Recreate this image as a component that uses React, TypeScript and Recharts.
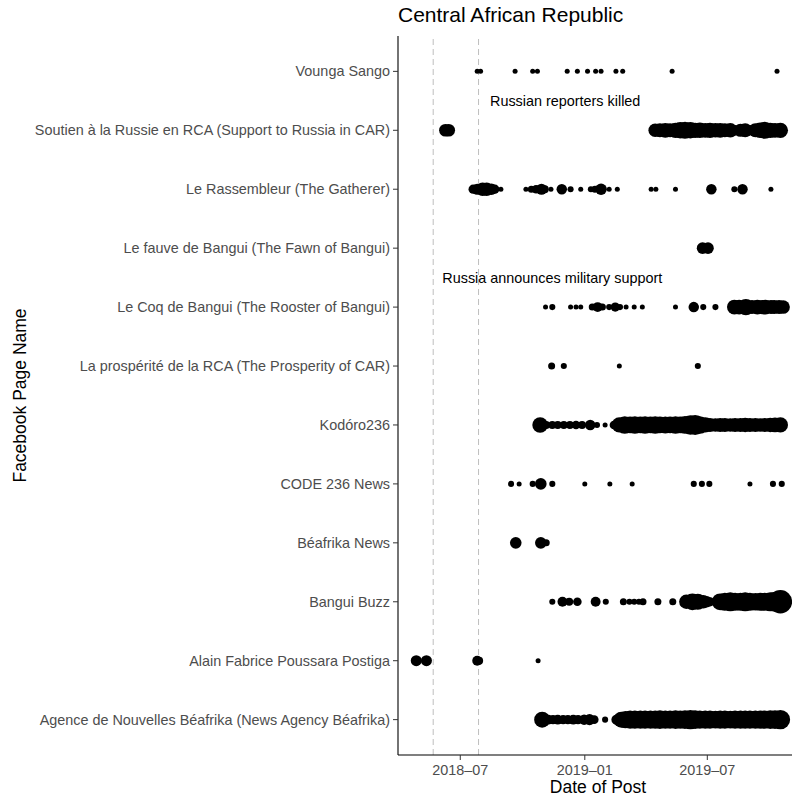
import React from 'react';
import { ScatterChart, Scatter, XAxis, YAxis, ReferenceLine } from 'recharts';

// rows from bottom to top, like the facet order in the source plot
const pages = [
  'Agence de Nouvelles Béafrika (News Agency Béafrika)',
  'Alain Fabrice Poussara Postiga',
  'Bangui Buzz',
  'Béafrika News',
  'CODE 236 News',
  'Kodóro236',
  'La prospérité de la RCA (The Prosperity of CAR)',
  'Le Coq de Bangui (The Rooster of Bangui)',
  'Le fauve de Bangui (The Fawn of Bangui)',
  'Le Rassembleur (The Gatherer)',
  'Soutien à la Russie en RCA (Support to Russia in CAR)',
  'Vounga Sango',
];

// [date, number of posts]
const agence: [string, number][] = [
  ['2018-10-30', 20], ['2018-11-08', 7], ['2018-11-15', 6], ['2018-11-22', 7], ['2018-11-30', 6],
  ['2018-12-07', 6], ['2018-12-15', 7], ['2018-12-22', 6], ['2018-12-31', 8], ['2019-01-08', 9],
  ['2019-01-15', 5], ['2019-01-31', 2], ['2019-02-17', 8], ['2019-02-24', 20], ['2019-03-02', 24],
  ['2019-03-09', 26], ['2019-03-16', 27], ['2019-03-24', 26], ['2019-03-31', 27], ['2019-04-08', 26],
  ['2019-04-15', 27], ['2019-04-22', 28], ['2019-04-30', 27], ['2019-05-07', 26], ['2019-05-15', 28],
  ['2019-05-22', 27], ['2019-05-29', 28], ['2019-06-06', 30], ['2019-06-13', 28], ['2019-06-20', 26],
  ['2019-06-28', 27], ['2019-07-05', 26], ['2019-07-13', 25], ['2019-07-20', 26], ['2019-07-27', 26],
  ['2019-08-04', 25], ['2019-08-11', 26], ['2019-08-19', 27], ['2019-08-26', 26], ['2019-09-02', 26],
  ['2019-09-10', 27], ['2019-09-17', 26], ['2019-09-24', 27], ['2019-10-02', 28], ['2019-10-09', 28],
  ['2019-10-17', 30],
];

const alain: [string, number][] = [
  ['2018-04-27', 9], ['2018-05-12', 9], ['2018-07-26', 7], ['2018-07-29', 4], ['2018-10-24', 1],
];

const banguiBuzz: [string, number][] = [
  ['2018-11-14', 2], ['2018-11-29', 7], ['2018-12-09', 4], ['2018-12-21', 5], ['2019-01-17', 7],
  ['2019-02-01', 2], ['2019-02-27', 3], ['2019-03-08', 2], ['2019-03-15', 2], ['2019-03-22', 2],
  ['2019-03-28', 3], ['2019-04-19', 3], ['2019-05-11', 3], ['2019-05-31', 16], ['2019-06-09', 22],
  ['2019-06-17', 20], ['2019-06-25', 14], ['2019-06-30', 10], ['2019-07-05', 6], ['2019-07-20', 22],
  ['2019-07-27', 26], ['2019-08-04', 28], ['2019-08-11', 26], ['2019-08-19', 26], ['2019-08-26', 28],
  ['2019-09-02', 26], ['2019-09-10', 24], ['2019-09-17', 26], ['2019-09-24', 26], ['2019-10-02', 28],
  ['2019-10-09', 32], ['2019-10-17', 44],
];

const beafrikaNews: [string, number][] = [
  ['2018-09-21', 10], ['2018-10-28', 10], ['2018-11-05', 3],
];

const code236: [string, number][] = [
  ['2018-09-14', 2], ['2018-09-26', 1], ['2018-10-16', 2], ['2018-10-28', 10], ['2018-11-14', 2],
  ['2019-01-01', 1], ['2019-02-07', 1], ['2019-03-12', 1], ['2019-06-11', 2], ['2019-06-23', 2],
  ['2019-07-04', 2], ['2019-09-02', 1], ['2019-10-06', 2], ['2019-10-19', 2],
];

const kodoro: [string, number][] = [
  ['2018-10-27', 19], ['2018-11-05', 4], ['2018-11-14', 4], ['2018-11-22', 4], ['2018-12-01', 4],
  ['2018-12-10', 4], ['2018-12-19', 5], ['2018-12-28', 4], ['2019-01-09', 8], ['2019-01-19', 2],
  ['2019-01-31', 1], ['2019-02-13', 5], ['2019-02-21', 18], ['2019-03-01', 24], ['2019-03-09', 22],
  ['2019-03-16', 24], ['2019-03-24', 22], ['2019-03-31', 24], ['2019-04-08', 22], ['2019-04-15', 24],
  ['2019-04-22', 22], ['2019-04-30', 23], ['2019-05-07', 22], ['2019-05-15', 24], ['2019-05-22', 22],
  ['2019-05-29', 25], ['2019-06-06', 30], ['2019-06-13', 32], ['2019-06-20', 24], ['2019-06-28', 18],
  ['2019-07-05', 15], ['2019-07-13', 14], ['2019-07-20', 15], ['2019-07-27', 15], ['2019-08-04', 14],
  ['2019-08-11', 15], ['2019-08-19', 15], ['2019-08-26', 16], ['2019-09-02', 15], ['2019-09-10', 15],
  ['2019-09-17', 14], ['2019-09-24', 15], ['2019-10-02', 16], ['2019-10-09', 17], ['2019-10-17', 18],
];

const prosperite: [string, number][] = [
  ['2018-11-13', 3], ['2018-12-01', 2], ['2019-02-21', 1], ['2019-06-17', 2],
];

const leCoq: [string, number][] = [
  ['2018-11-04', 1], ['2018-11-14', 2], ['2018-12-11', 1], ['2018-12-19', 1], ['2018-12-26', 1],
  ['2019-01-12', 3], ['2019-01-20', 7], ['2019-01-27', 3], ['2019-02-06', 2], ['2019-02-15', 6],
  ['2019-02-22', 2], ['2019-03-03', 1], ['2019-03-15', 1], ['2019-03-27', 1], ['2019-05-15', 1],
  ['2019-06-11', 8], ['2019-06-25', 2], ['2019-07-13', 2], ['2019-08-10', 17], ['2019-08-17', 17],
  ['2019-08-27', 21], ['2019-09-05', 15], ['2019-09-13', 17], ['2019-09-20', 16], ['2019-09-25', 17],
  ['2019-10-03', 15], ['2019-10-08', 15], ['2019-10-15', 15], ['2019-10-21', 14],
];

const leFauve: [string, number][] = [
  ['2019-06-24', 10], ['2019-07-02', 10],
];

const rassembleur: [string, number][] = [
  ['2018-07-20', 6], ['2018-07-26', 9], ['2018-08-03', 14], ['2018-08-09', 14], ['2018-08-16', 10],
  ['2018-08-21', 6], ['2018-08-30', 1], ['2018-10-06', 1], ['2018-10-14', 3], ['2018-10-21', 5],
  ['2018-10-29', 9], ['2018-11-03', 4], ['2018-11-12', 1], ['2018-11-28', 8], ['2018-12-11', 2],
  ['2018-12-26', 1], ['2019-01-10', 2], ['2019-01-16', 3], ['2019-01-25', 10], ['2019-02-06', 1],
  ['2019-02-18', 1], ['2019-04-09', 1], ['2019-04-16', 1], ['2019-05-15', 1], ['2019-07-07', 8],
  ['2019-08-10', 2], ['2019-08-22', 8], ['2019-10-03', 1],
];

const soutien: [string, number][] = [
  ['2018-06-09', 12], ['2018-06-14', 12], ['2019-04-15', 14], ['2019-04-22', 15], ['2019-04-30', 17],
  ['2019-05-07', 15], ['2019-05-15', 18], ['2019-05-22', 21], ['2019-05-29', 23], ['2019-06-06', 21],
  ['2019-06-13', 18], ['2019-06-20', 19], ['2019-06-28', 17], ['2019-07-05', 18], ['2019-07-13', 16],
  ['2019-07-20', 17], ['2019-07-27', 15], ['2019-08-04', 16], ['2019-08-11', 8], ['2019-08-19', 13],
  ['2019-08-26', 15], ['2019-09-02', 7], ['2019-09-10', 15], ['2019-09-17', 19], ['2019-09-24', 23],
  ['2019-10-02', 18], ['2019-10-09', 17], ['2019-10-17', 18],
];

const vounga: [string, number][] = [
  ['2018-07-26', 1], ['2018-07-31', 1], ['2018-09-20', 1], ['2018-10-16', 1], ['2018-10-23', 1],
  ['2018-12-06', 1], ['2018-12-21', 1], ['2019-01-05', 1], ['2019-01-17', 1], ['2019-01-25', 1],
  ['2019-02-16', 1], ['2019-02-26', 1], ['2019-05-10', 1], ['2019-10-12', 1],
];

const seriesByPage = [
  agence, alain, banguiBuzz, beafrikaNews, code236, kodoro,
  prosperite, leCoq, leFauve, rassembleur, soutien, vounga,
];

const xTicks = ['2018-07-01', '2019-01-01', '2019-07-01'];
const eventDates = ['2018-05-22', '2018-07-28'];
const annotations = [
  { date: '2018-12-03', row: 10.5, text: 'Russian reporters killed' },
  { date: '2018-11-14', row: 7.5, text: 'Russia announces military support' },
];

const FONT = '"Liberation Sans", Arial, Helvetica, sans-serif';
const ts = (d: string) => Date.parse(d + 'T00:00:00Z');

// area-proportional size scale, like scale_size()
const radius = (n: number) => Math.sqrt(2.5 * 2.5 + ((n - 1) * (11.7 * 11.7 - 2.5 * 2.5)) / 43);

const PostDot = (props: any) => (
  <circle cx={props.cx} cy={props.cy} r={radius(props.payload.n)} fill="#000" />
);

const NoteText = (props: any) => (
  <text
    x={props.cx}
    y={props.cy}
    textAnchor="middle"
    dominantBaseline="central"
    fontSize={14.4}
    fontFamily={FONT}
    fill="#000"
  >
    {props.payload.text}
  </text>
);

const fmtMonth = (v: number) => {
  const d = new Date(v);
  return `${d.getUTCFullYear()}–${String(d.getUTCMonth() + 1).padStart(2, '0')}`;
};

export default function App() {
  const noteData = annotations.map((a) => ({ x: ts(a.date), y: a.row, text: a.text }));

  return (
    <div
      style={{
        position: 'absolute',
        left: 0,
        top: 0,
        width: 792,
        height: 798,
        overflow: 'hidden',
        background: '#fff',
        fontFamily: FONT,
      }}
    >
      <div
        style={{
          position: 'absolute',
          left: 398,
          top: 4,
          fontSize: 21,
          lineHeight: '21px',
          color: '#000',
          whiteSpace: 'nowrap',
        }}
      >
        Central African Republic
      </div>
      <ScatterChart width={800} height={798} margin={{ top: 36, right: 2, bottom: 0, left: 0 }}>
        <XAxis
          dataKey="x"
          type="number"
          domain={[ts('2018-03-31'), ts('2019-11-12')]}
          allowDataOverflow
          ticks={xTicks.map(ts)}
          tickFormatter={fmtMonth}
          height={43}
          tickSize={5}
          tickMargin={5}
          tick={{ fill: '#4D4D4D', fontSize: 14.4, fontFamily: FONT }}
          axisLine={{ stroke: '#000', strokeWidth: 1.1 }}
          tickLine={{ stroke: '#333' }}
          label={{
            value: 'Date of Post',
            position: 'insideBottom',
            offset: 5,
            style: { fill: '#000', fontSize: 17.5, fontFamily: FONT },
          }}
        />
        <YAxis
          dataKey="y"
          type="number"
          domain={[-0.6, 11.6]}
          allowDataOverflow
          ticks={pages.map((_, i) => i)}
          interval={0}
          tickFormatter={(i: number) => pages[i]}
          width={398}
          tickSize={5}
          tickMargin={3}
          tick={{ fill: '#4D4D4D', fontSize: 14.4, fontFamily: FONT }}
          axisLine={{ stroke: '#000', strokeWidth: 1.1 }}
          tickLine={{ stroke: '#333' }}
          label={{
            value: 'Facebook Page Name',
            angle: -90,
            position: 'insideLeft',
            offset: 20,
            style: { fill: '#000', fontSize: 17.5, fontFamily: FONT, textAnchor: 'middle' },
          }}
        />
        {eventDates.map((d) => (
          <ReferenceLine key={d} x={ts(d)} stroke="#BEBEBE" strokeDasharray="6 4" strokeWidth={1} />
        ))}
        {seriesByPage.map((rows, i) => (
          <Scatter
            key={pages[i]}
            data={rows.map(([d, n]) => ({ x: ts(d), y: i, n }))}
            shape={PostDot}
            isAnimationActive={false}
          />
        ))}
        <Scatter data={noteData} shape={NoteText} isAnimationActive={false} />
      </ScatterChart>
    </div>
  );
}
